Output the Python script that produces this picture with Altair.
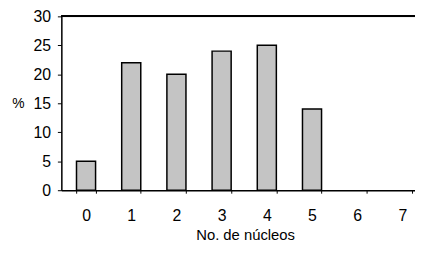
import altair as alt
import pandas as pd

nucleos = ["0", "1", "2", "3", "4", "5", "6", "7"]
porcentaje = [5, 22, 20, 24, 25, 14, 0, 0]

df = pd.DataFrame({"n": nucleos, "pct": porcentaje})

W = 358
H = 176
FONT = "Liberation Sans"

bars = alt.Chart(df).mark_bar(
    color="#c4c4c4", stroke="black", strokeWidth=1.5
).encode(
    x=alt.X(
        "n:N",
        sort=nucleos,
        scale=alt.Scale(paddingInner=0.578, paddingOuter=0.2015, align=0.832),
        axis=alt.Axis(
            title="No. de núcleos",
            labelAngle=0,
            labelFontSize=16,
            labelFont=FONT,
            labelColor="black",
            labelPadding=15,
            tickBand="extent",
            tickSize=3,
            tickColor="black",
            domainColor="black",
            domainWidth=1.5,
            titleFont=FONT,
            titleFontSize=15,
            titleFontWeight="normal",
            titleColor="black",
            titleX=186,
            titleY=45,
            titleAlign="center",
            titleBaseline="middle",
        ),
    ),
    y=alt.Y(
        "pct:Q",
        scale=alt.Scale(domain=[0, 30], nice=False),
        axis=alt.Axis(
            values=[0, 5, 10, 15, 20, 25, 30],
            title="%",
            titleAngle=0,
            titleX=-44,
            titleY=88,
            titleAlign="center",
            titleBaseline="middle",
            titleFont=FONT,
            titleFontSize=14,
            titleFontWeight="normal",
            titleColor="black",
            labelFontSize=16,
            labelFont=FONT,
            labelColor="black",
            labelPadding=7,
            tickSize=4,
            tickColor="black",
            domainColor="black",
            domainWidth=1.5,
            grid=False,
        ),
    ),
    strokeOpacity=alt.condition("datum.pct > 0", alt.value(1), alt.value(0)),
)

top = alt.Chart(df).mark_rule(color="black", strokeWidth=1.5).encode(
    x=alt.value(0), x2=alt.value(W + 10), y=alt.value(0)
)

chart = alt.layer(bars, top).properties(
    width=W,
    height=H,
    autosize=alt.AutoSizeParams(type="none"),
    padding={"left": 54, "top": 7, "right": 0, "bottom": 55},
).configure_view(stroke=None).configure(background="white")

chart.save("out.html", embed_options={"renderer": "svg", "actions": False})
